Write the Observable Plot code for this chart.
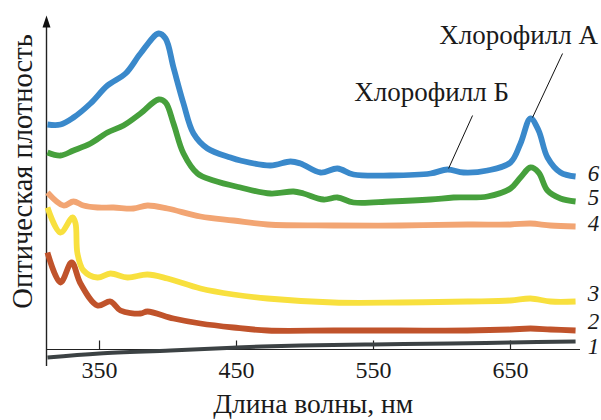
<!DOCTYPE html>
<html>
<head>
<meta charset="utf-8">
<script src="https://cdn.jsdelivr.net/npm/d3@7"></script>
<script src="https://cdn.jsdelivr.net/npm/@observablehq/plot@0.6"></script>
<style>
  html, body { margin: 0; padding: 0; background: #fff; }
  #chart { width: 601px; height: 420px; }
  #chart svg text { font-family: "Liberation Serif", "Times New Roman", serif !important; }
</style>
</head>
<body>
<div id="chart"></div>
<script>
// Spectra (wavelength, nm / optical density, arbitrary units)
const wl6 = [312, 321.5, 331, 343.4, 355.8, 369, 379.9, 393.1, 398.2, 404, 411.3, 418.6, 428.8, 445.6, 452.9, 474.8, 489.4, 496.7, 511.3, 523.7, 535.4, 562.4, 591.6, 604, 615.7, 633.2, 650, 657.3, 664.6, 670.5, 677, 686.5, 697.5];
const od6 = [2.25, 2.25, 2.32, 2.46, 2.64, 2.76, 2.96, 3.16, 3.11, 2.82, 2.46, 2.16, 2.01, 1.92, 1.89, 1.84, 1.88, 1.86, 1.77, 1.81, 1.75, 1.74, 1.76, 1.80, 1.77, 1.79, 1.87, 2.06, 2.31, 2.19, 1.92, 1.77, 1.73];

const wl5 = [312, 321.5, 331, 343.4, 355.8, 367.5, 379.9, 393.1, 398.2, 404, 411.3, 421.5, 433.2, 452.9, 474.8, 491.6, 498.9, 513.5, 523.7, 535.4, 562.4, 591.6, 608.4, 633.2, 650, 657.3, 664.6, 670.5, 677, 686.5, 697.5];
const od5 = [1.97, 1.94, 1.99, 2.06, 2.17, 2.24, 2.36, 2.50, 2.47, 2.26, 1.96, 1.76, 1.69, 1.62, 1.56, 1.58, 1.56, 1.50, 1.52, 1.47, 1.48, 1.50, 1.52, 1.53, 1.61, 1.72, 1.82, 1.77, 1.59, 1.51, 1.48];

const wl4 = [312, 323.7, 331, 338.3, 348.5, 360.2, 374.8, 385, 399.6, 423.7, 447.8, 472.6, 520.8, 569.7, 618.6, 650, 664.6, 679.2, 697.5];
const od4 = [1.57, 1.44, 1.48, 1.44, 1.42, 1.42, 1.41, 1.44, 1.41, 1.33, 1.29, 1.25, 1.24, 1.24, 1.25, 1.25, 1.26, 1.24, 1.23];

const wl3 = [312, 321.5, 330.3, 332.5, 333.9, 338.3, 348.5, 358, 370.4, 385, 399.6, 423.7, 447.8, 472.6, 520.8, 569.7, 618.6, 650, 664.6, 679.2, 697.5];
const od3 = [1.42, 1.17, 1.32, 1.26, 0.96, 0.79, 0.72, 0.76, 0.72, 0.75, 0.71, 0.61, 0.55, 0.51, 0.47, 0.47, 0.48, 0.49, 0.51, 0.48, 0.48];

const wl2 = [312, 321.5, 329.6, 336.1, 348.5, 358, 365.3, 379.9, 385, 404, 423.7, 447.8, 472.6, 520.8, 569.7, 618.6, 650, 664.6, 679.2, 697.5];
const od2 = [0.97, 0.67, 0.87, 0.66, 0.44, 0.48, 0.39, 0.36, 0.38, 0.31, 0.26, 0.22, 0.19, 0.19, 0.19, 0.19, 0.20, 0.21, 0.20, 0.19];

const wl1 = [312, 350, 401.8, 450, 496.7, 550, 606.2, 650, 697.5];
const od1 = [-0.08, -0.04, -0.01, 0.02, 0.04, 0.05, 0.06, 0.07, 0.08];

const seriesNames = ["1", "2", "3", "4", "5", "6"];
const seriesColors = ["#3c4244", "#c0532b", "#f8e03e", "#f2a573", "#46a03c", "#3a89cb"];
const labelY = [0.03, 0.28, 0.56, 1.26, 1.52, 1.76];

const xTicks = [350, 450, 550, 650];
const xDomain = [311.3, 701.1];
const yDomain = [0, 3.34];

const notes = ["Хлорофилл А", "Хлорофилл Б"];
const noteX = [655.9, 592.4];
const noteY = [3.14, 2.57];
const leaderX1 = [688, 622.3], leaderY1 = [2.96, 2.34];
const leaderX2 = [666.1, 604.8], leaderY2 = [2.32, 1.81];

const xLabel = "Длина волны, нм";
const yLabel = "Оптическая плотность";

// build tables
const wls = [wl1, wl2, wl3, wl4, wl5, wl6];
const ods = [od1, od2, od3, od4, od5, od6];
const rows = wls.map((w, i) => w.map((x, j) => ({x, y: ods[i][j], s: seriesNames[i]})));
const labelRows = seriesNames.map((s, i) => ({s, y: labelY[i]}));
const noteRows = notes.map((t, i) => ({t, x: noteX[i], y: noteY[i]}));
const leaderRows = notes.map((t, i) => ({x1: leaderX1[i], y1: leaderY1[i], x2: leaderX2[i], y2: leaderY2[i]}));

const serif = "Liberation Serif";

const lineMarks = rows.map((r, i) => Plot.line(r, {
  x: "x", y: "y", stroke: seriesColors[i], strokeWidth: i === 0 ? 4 : 5.8,
  curve: "catmull-rom", strokeLinecap: "butt", strokeLinejoin: "round"
}));

const chart = Plot.plot({
  width: 601, height: 420,
  marginLeft: 46, marginRight: 21, marginTop: 15, marginBottom: 71,
  x: {domain: xDomain, axis: null},
  y: {domain: yDomain, axis: null},
  style: {background: "#fff", overflow: "visible", color: "#1a1a1a"},
  marks: [
    // axes
    Plot.ruleY([0], {x1: xDomain[0], x2: xDomain[1], stroke: "#222", strokeWidth: 1.2}),
    Plot.ruleX([xDomain[0]], {y1: -0.17, y2: 3.22, stroke: "#222", strokeWidth: 1.4}),
    Plot.vector([{x: xDomain[0], y: 3.22}], {x: "x", y: "y", shape: "spike", length: 12, r: 4, rotate: 0, anchor: "start", fill: "#111", stroke: "none"}),
    Plot.ruleX(xTicks, {y1: 0, y2: 0.085, stroke: "#222", strokeWidth: 1.2}),
    Plot.text(xTicks, {x: d => d, y: -0.21, text: d => String(d), fontSize: 24, fontFamily: serif, fill: "#1a1a1a"}),
    Plot.text([xLabel], {x: 506, y: -0.55, text: d => d, fontSize: 27.5, fontFamily: serif, fill: "#1a1a1a"}),
    Plot.text([yLabel], {x: 294, y: 1.78, text: d => d, fontSize: 28.5, fontFamily: serif, rotate: -90, fill: "#1a1a1a"}),
    ...lineMarks,
    // series numbers
    Plot.text(labelRows, {x: 710.6, y: "y", text: "s", fontSize: 23, fontFamily: serif, fontStyle: "italic", fill: "#1a1a1a"}),
    // annotations
    Plot.link(leaderRows, {x1: "x1", y1: "y1", x2: "x2", y2: "y2", stroke: "#111", strokeWidth: 1}),
    Plot.text(noteRows, {x: "x", y: "y", text: "t", fontSize: 27, fontFamily: serif, fill: "#1a1a1a"})
  ]
});
chart.setAttribute("font-family", serif);
document.getElementById("chart").appendChild(chart);
</script>
</body>
</html>
